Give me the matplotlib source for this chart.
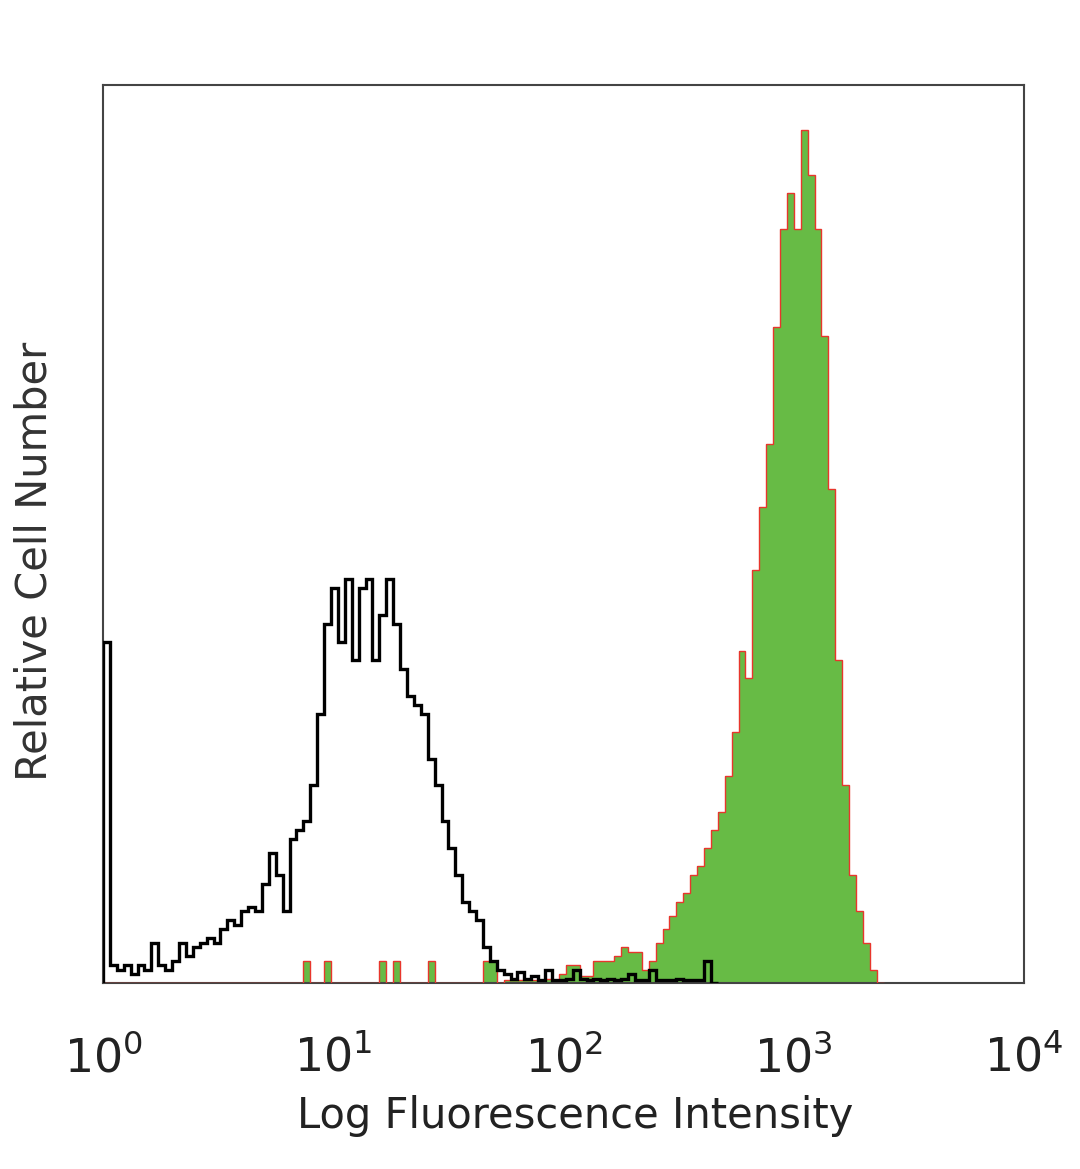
import numpy as np
import matplotlib
matplotlib.use("Agg")
from matplotlib import pyplot as plt

# log10 bin width of the histogram channels
bin_step = 0.03

# isotype control (black outline), bins from 10^0 upward
control = [38, 2, 1.5, 2, 1, 2, 1.5, 4.5, 2, 1.5,
           2.5, 4.5, 3, 4, 4.5, 5, 4.5, 6, 7, 6.5,
           8, 8.5, 8, 11, 14.5, 12, 8, 16, 17, 18,
           22, 30, 40, 44, 38, 45, 36, 44, 45, 36,
           41, 45, 40, 35, 32, 31, 30, 25, 22, 18,
           15, 12, 9, 8, 7, 4, 2.5, 1.5, 1, 0.5,
           1.2, 0.5, 0.8, 0.3, 1.5, 0.3, 0.3, 0.5, 1.5, 0.5,
           0.3, 0.5, 0.3, 0.5, 0.3, 0.5, 1, 0.3, 0.3, 1.5,
           0.3, 0.3, 0.3, 0.5, 0.3, 0.3, 0.3, 2.5, 0]

# stained sample (green fill, red outline)
stained = [0, 0, 0, 0, 0, 0, 0, 0, 0, 0,
           0, 0, 0, 0, 0, 0, 0, 0, 0, 0,
           0, 0, 0, 0, 0, 0, 0, 0, 0, 2.5,
           0, 0, 2.5, 0, 0, 0, 0, 0, 0, 0,
           2.5, 0, 2.5, 0, 0, 0, 0, 2.5, 0, 0,
           0, 0, 0, 0, 0, 2.5, 2.5, 0, 0.3, 0.3,
           0.3, 0.3, 0.3, 0.3, 0.5, 0.3, 1, 2, 2, 0.8,
           0.8, 2.5, 2.5, 2.5, 3, 4, 3.5, 3.5, 1.5, 2.5,
           4.5, 6, 7.5, 9, 10, 12, 13, 15, 17, 19,
           23, 28, 37, 34, 46, 53, 60, 73, 84, 88,
           84, 95, 90, 84, 72, 55, 36, 22, 12, 8,
           4.5, 1.5, 0]

plt.rcParams['font.family'] = ['DejaVu Sans']

fig = plt.figure(figsize=(10.8, 11.69), dpi=100)
ax = fig.add_axes([0.0954, 0.1591, 0.8528, 0.7682])

edges_s = 10 ** (bin_step * np.arange(len(stained) + 1))
edges_c = 10 ** (bin_step * np.arange(len(control) + 1))

ax.stairs(stained, edges_s, fill=True, color='#67bb45', zorder=2)
ax.stairs(stained, edges_s, color='#e8362c', lw=1.0, zorder=3)
ax.stairs(control, edges_c, color='black', lw=2.4, zorder=4)

ax.set_xscale('log')
ax.set_xlim(1, 1e4)
ax.set_ylim(0, 100)
ax.set_yticks([])
ax.set_xticks([1, 10, 100, 1000, 10000])
ax.set_xticklabels([r'$10^{%d}$' % k for k in range(5)])
ax.minorticks_off()
ax.tick_params(axis='x', length=0, pad=38, labelsize=33, labelcolor='#222222')

for s in ax.spines.values():
    s.set_linewidth(1.5)
    s.set_color('#444444')

ax.set_xlabel('Log Fluorescence Intensity', fontsize=30, color='#222222', labelpad=12)
ax.xaxis.set_label_coords(0.513, -0.125)
ax.set_ylabel('Relative Cell Number', fontsize=30, color='#333333')
ax.yaxis.set_label_coords(-0.052, 0.47)

fig.savefig('out.png', dpi=100)
